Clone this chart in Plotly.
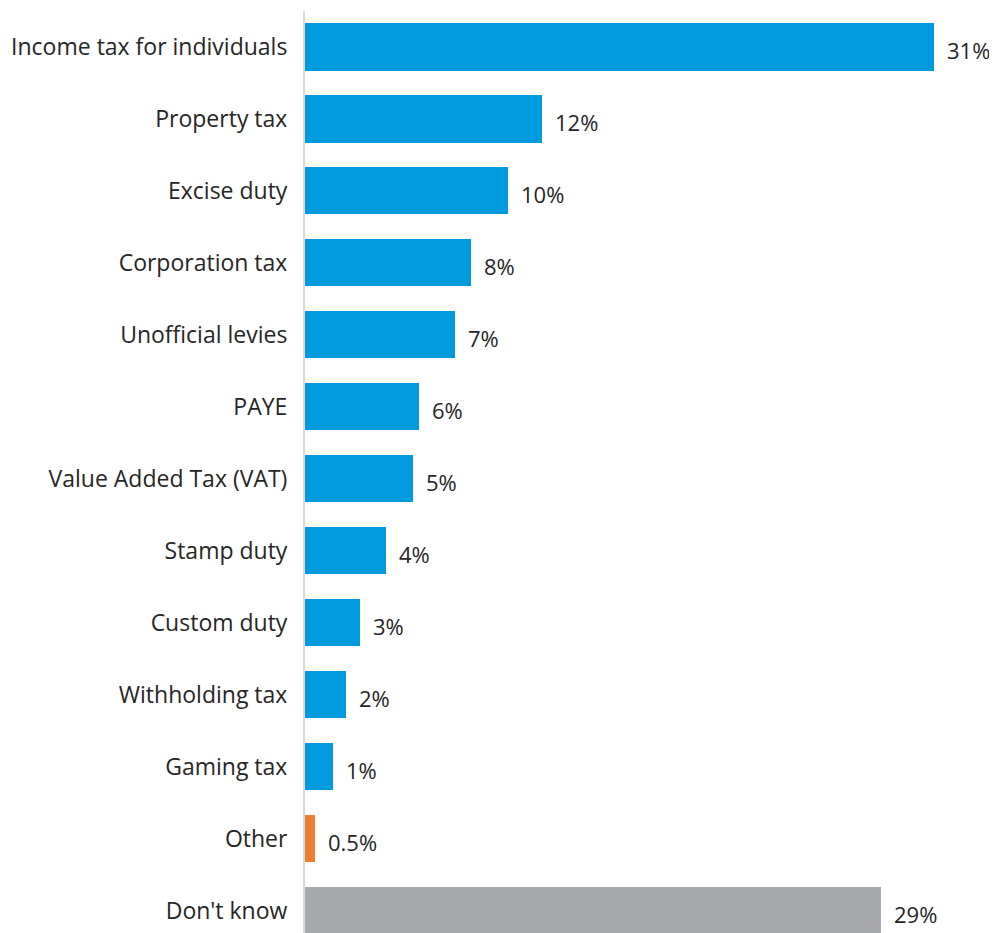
import plotly.graph_objects as go

categories = ["Income tax for individuals", "Property tax", "Excise duty", "Corporation tax",
              "Unofficial levies", "PAYE", "Value Added Tax (VAT)", "Stamp duty", "Custom duty",
              "Withholding tax", "Gaming tax", "Other", "Don't know"]
values = [31.0, 11.7, 10.0, 8.2, 7.4, 5.6, 5.3, 4.0, 2.7, 2.0, 1.4, 0.5, 28.4]
value_labels = ["31%", "12%", "10%", "8%", "7%", "6%", "5%", "4%", "3%", "2%", "1%", "0.5%", "29%"]
bar_colors = ["#009BDE"] * 11 + ["#ED7D31", "#A7A9AC"]

OFF = 8  # page body margin
W, H = 997 - OFF, 933 - OFF
L, T = 305 - OFF, 10.5 - OFF
px_per_unit = 629 / 31.0
x_max = (W - L) / px_per_unit
band = 72.0
plot_h = H - T
y_bottom = -0.5 + plot_h / band

idx = list(range(len(categories)))
FONT = "Open Sans"

fig = go.Figure()
fig.add_trace(go.Bar(
    x=values, y=idx, orientation="h",
    marker=dict(color=bar_colors, line=dict(width=0)),
    width=0.655,
    text=value_labels, textposition="none", hoverinfo="skip",
))
for i, (v, lab) in enumerate(zip(values, value_labels)):
    fig.add_annotation(x=v, y=i, text=lab, showarrow=False, xanchor="left",
                       xshift=11, yshift=-3,
                       font=dict(family=FONT, size=22, color="#262626"))

fig.update_layout(
    width=W, height=H,
    margin=dict(l=L, r=0, t=T, b=0, pad=0),
    paper_bgcolor="white", plot_bgcolor="white",
    showlegend=False,
    bargap=0,
    xaxis=dict(range=[0, x_max], showgrid=False, zeroline=False, showticklabels=False,
               showline=False, fixedrange=True),
    yaxis=dict(range=[y_bottom, -0.5], tickvals=idx, ticktext=categories,
               showgrid=False, zeroline=False, showline=True, linecolor="#D9D9D9",
               linewidth=2, ticks="", ticklabelstandoff=11,
               tickfont=dict(family=FONT, size=23, color="#262626")),
)
fig.write_html("out.html")
